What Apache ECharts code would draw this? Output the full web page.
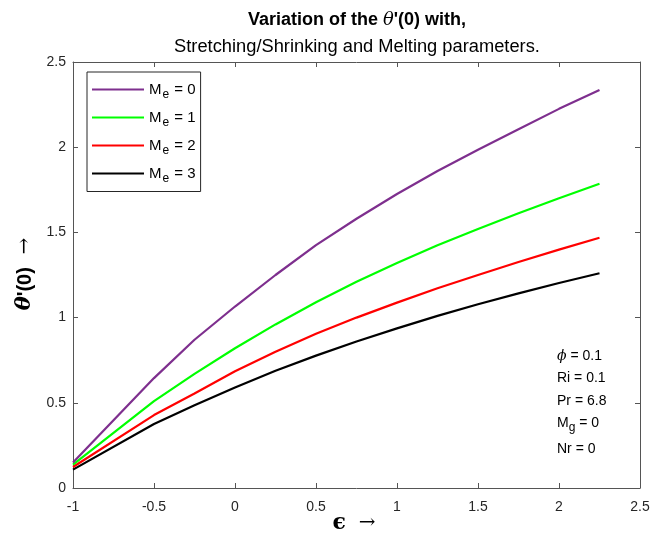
<!DOCTYPE html>
<html>
<head>
<meta charset="utf-8">
<script src="https://cdn.jsdelivr.net/npm/echarts@6/dist/echarts.min.js"></script>
<style>
  html, body { margin: 0; padding: 0; background: #fff; }
  #chart { width: 651px; height: 544px; }
</style>
</head>
<body>
<div id="chart"></div>
<script>
// Stretching/shrinking parameter epsilon
const epsilon = [-1, -0.5, -0.25, 0, 0.25, 0.5, 0.75, 1, 1.25, 1.5, 1.75, 2, 2.25];

// theta'(0) for each melting parameter Me
const me0 = [0.150, 0.645, 0.870, 1.065, 1.250, 1.425, 1.580, 1.725, 1.860, 1.985, 2.105, 2.225, 2.336];
const me1 = [0.137, 0.510, 0.670, 0.820, 0.960, 1.090, 1.210, 1.320, 1.425, 1.520, 1.612, 1.700, 1.786];
const me2 = [0.123, 0.428, 0.555, 0.685, 0.800, 0.905, 1.000, 1.088, 1.172, 1.250, 1.326, 1.399, 1.469];
const me3 = [0.108, 0.376, 0.485, 0.590, 0.688, 0.777, 0.860, 0.937, 1.010, 1.078, 1.142, 1.203, 1.260];

const seriesNames = ['M_e = 0', 'M_e = 1', 'M_e = 2', 'M_e = 3'];
const seriesColors = ['#7E2F8E', '#00FF00', '#FF0000', '#000000'];
const seriesValues = [me0, me1, me2, me3];

const xTicks = { min: -1, max: 2.5, interval: 0.5 };
const yTicks = { min: 0, max: 2.5, interval: 0.5 };

// Parameter block, rich-text markup: i = italic symbol, s = subscript
const annotations = ['{i|\u03d5}{m| = 0.1}', '{m|Ri = 0.1}', '{m|Pr = 6.8}', '{m|M}{s|g}{m| = 0}', '{m|Nr = 0}'];
const annotationRows = [356, 378, 401, 423, 449];

const AX = '#262626';
const AXLINE = '#555555';
const FONT = '"Liberation Sans", Arial, Helvetica, sans-serif';
const SERIF = '"DejaVu Serif", serif';

const chart = echarts.init(document.getElementById('chart'), null, { renderer: 'canvas' });

function pairs(vals) {
  return epsilon.map((e, i) => [e, vals[i]]);
}

const subRich = {
  m: { fontSize: 14, fontFamily: FONT, color: '#000' },
  s: { fontSize: 12, fontFamily: FONT, color: '#000', padding: [9, 0, 0, 0] },
  i: { fontSize: 14, fontFamily: SERIF, fontStyle: 'italic', color: '#000' }
};

const legendRich = {
  m: { fontSize: 15, fontFamily: FONT, color: '#000' },
  s: { fontSize: 12, fontFamily: FONT, color: '#000', padding: [10, 1, 0, 1] }
};

function axis(position, ticks, label) {
  return {
    type: 'value',
    position: position,
    min: ticks.min,
    max: ticks.max,
    interval: ticks.interval,
    axisLine: { show: true, onZero: false, lineStyle: { color: AXLINE, width: 1 } },
    axisTick: { show: true, inside: true, length: 5, lineStyle: { color: AXLINE, width: 1 } },
    splitLine: { show: false },
    axisLabel: label
      ? Object.assign({ show: true, color: AX, fontSize: 14, fontFamily: FONT }, label)
      : { show: false }
  };
}

const option = {
  animation: false,
  backgroundColor: '#fff',
  grid: { left: 73, right: 11, top: 62, bottom: 56, containLabel: false, outerBoundsMode: 'none' },
  xAxis: [
    axis('bottom', xTicks, { margin: 12 }),
    axis('top', xTicks, null)
  ],
  yAxis: [
    axis('left', yTicks, { margin: 7 }),
    axis('right', yTicks, null)
  ],
  legend: {
    show: true,
    orient: 'vertical',
    left: 87,
    top: 72,
    itemWidth: 52,
    itemHeight: 18,
    itemGap: 9.5,
    padding: [10, 5, 7, 5],
    borderColor: AX,
    borderWidth: 1,
    backgroundColor: '#fff',
    icon: 'path://M0,8 L52,8 L52,10 L0,10 Z',
    data: seriesNames,
    formatter: function (name) {
      const parts = name.split('_');
      const rest = parts[1];
      return '{m|' + parts[0] + '}{s|' + rest.charAt(0) + '}{m|' + rest.slice(1) + '}';
    },
    textStyle: { rich: legendRich }
  },
  series: seriesNames.map((n, k) => ({
    name: n,
    type: 'line',
    xAxisIndex: 0,
    yAxisIndex: 0,
    data: pairs(seriesValues[k]),
    showSymbol: false,
    symbol: 'none',
    smooth: false,
    lineStyle: { color: seriesColors[k], width: 2.2 },
    itemStyle: { color: seriesColors[k] },
    z: 10 - k
  })),
  graphic: [
    {
      type: 'text', x: 357, y: 20,
      style: {
        text: '{b|Variation of the }{bi|\u03b8}{b|\'(0) with,}',
        align: 'center', verticalAlign: 'middle',
        rich: {
          b: { fontSize: 18, fontWeight: 'bold', fontFamily: FONT, color: '#000' },
          bi: { fontSize: 18, fontStyle: 'italic', fontFamily: SERIF, color: '#000' }
        }
      }
    },
    {
      type: 'text', x: 357, y: 47,
      style: {
        text: 'Stretching/Shrinking and Melting parameters.',
        align: 'center', verticalAlign: 'middle',
        fontSize: 18.3, fontFamily: FONT, fill: '#000'
      }
    },
    {
      type: 'text', x: 25, y: 274, rotation: Math.PI / 2,
      style: {
        text: '{t|\u03b8}{b|\'(0)}{a|  \u2192}',
        align: 'center', verticalAlign: 'middle',
        rich: {
          t: { fontSize: 21, fontWeight: 'bold', fontStyle: 'italic', fontFamily: SERIF, color: '#000' },
          b: { fontSize: 20, fontWeight: 'bold', fontFamily: FONT, color: '#000' },
          a: { fontSize: 20, fontFamily: SERIF, color: '#000' }
        }
      }
    },
    {
      type: 'text', x: 354, y: 523,
      style: {
        text: '{e|\u03f5}{a|  \u2192}',
        align: 'center', verticalAlign: 'middle',
        rich: {
          e: { fontSize: 22, fontWeight: 'bold', fontFamily: SERIF, color: '#000' },
          a: { fontSize: 20, fontFamily: SERIF, color: '#000' }
        }
      }
    }
  ].concat(annotations.map((t, i) => ({
    type: 'text', x: 557, y: annotationRows[i],
    style: { text: t, align: 'left', verticalAlign: 'middle', rich: subRich }
  })))
};

chart.setOption(option);
</script>
</body>
</html>
